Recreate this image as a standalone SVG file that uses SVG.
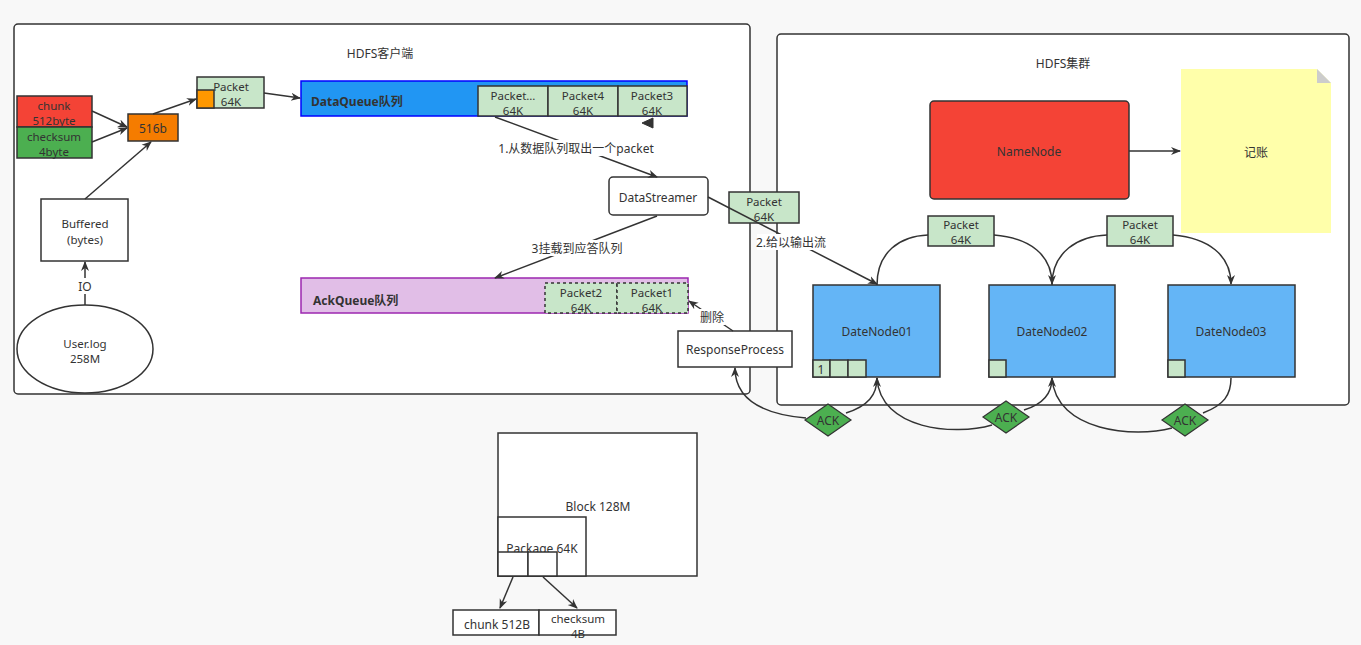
<svg xmlns="http://www.w3.org/2000/svg" width="1361" height="645" viewBox="0 0 1361 645">
<defs>
<style>
text{font-family:"Noto Sans","Noto Sans CJK SC",sans-serif;font-size:12px;fill:#333;text-anchor:middle;dominant-baseline:central}
.t{font-size:11.5px}
.b{font-weight:bold;text-anchor:start}
.box{stroke:#333;stroke-width:1.5}
.pk{fill:#c8e6c9;stroke:#333;stroke-width:1.5}
.dash{fill:#c8e6c9;stroke:#333;stroke-width:1.5;stroke-dasharray:3 3}
.dn{fill:#64b5f6;stroke:#333;stroke-width:1.5}
.ack{fill:#4caf50;stroke:#333;stroke-width:1.2}
.e{fill:none;stroke:#333;stroke-width:1.5}
.lb{fill:#fff}
</style>
<marker id="a" viewBox="0 0 10 10" refX="9" refY="5" markerWidth="10" markerHeight="10" markerUnits="userSpaceOnUse" orient="auto"><path d="M0,1 L10,5 L0,9 L3,5 z" fill="#333"/></marker>
</defs>
<rect width="1361" height="645" fill="#f8f8f8"/>
<g id="client">
<rect x="14" y="24" width="736" height="370" rx="4" fill="#fff" class="box"/>
<text x="380" y="53">HDFS客户端</text>
</g>
<g id="cluster">
<rect x="777" y="34" width="572" height="371" rx="4" fill="#fff" class="box"/>
<text x="1063" y="63">HDFS集群</text>
</g>
<g id="chunk"><rect x="17" y="96" width="75" height="31" fill="#f44336" class="box"/><text class="t" x="54" y="105">chunk</text><text class="t" x="54" y="120">512byte</text></g>
<g id="checksum"><rect x="17" y="127" width="75" height="31" fill="#4caf50" class="box"/><text class="t" x="54" y="136">checksum</text><text class="t" x="54" y="151">4byte</text></g>
<g id="b516"><rect x="128" y="114" width="50" height="27" fill="#f57c00" class="box"/><text x="153" y="128">516b</text></g>
<g id="packet0"><rect x="197" y="77" width="67" height="31" class="pk"/><rect x="197" y="90" width="17" height="18" fill="#ff9800" class="box"/><text class="t" x="231" y="86">Packet</text><text class="t" x="231" y="101">64K</text></g>
<g id="buffered"><rect x="41" y="199" width="87" height="62" fill="#fff" class="box"/><text class="t" x="85" y="223">Buffered</text><text class="t" x="85" y="239">(bytes)</text></g>
<g id="userlog"><ellipse cx="85" cy="349" rx="68" ry="44" fill="#fff" class="box"/><text class="t" x="85" y="343">User.log</text><text class="t" x="85" y="358">258M</text></g>
<g id="dataqueue">
<rect x="301" y="81" width="386" height="35" fill="#2196f3" stroke="#0000ff" stroke-width="1.5"/>
<text x="311" y="101" class="b">DataQueue队列</text>
<rect x="478" y="86" width="70" height="30" class="pk"/><text class="t" x="513" y="95">Packet…</text><text class="t" x="513" y="110">64K</text>
<rect x="548" y="86" width="70" height="30" class="pk"/><text class="t" x="583" y="95">Packet4</text><text class="t" x="583" y="110">64K</text>
<rect x="618" y="86" width="69" height="30" class="pk"/><text class="t" x="652" y="95">Packet3</text><text class="t" x="652" y="110">64K</text>
</g>
<g id="datastreamer"><rect x="609" y="177" width="99" height="38" rx="4" fill="#fff" class="box"/><text x="658" y="197">DataStreamer</text></g>
<g id="ackqueue">
<rect x="301" y="278" width="387" height="35" fill="#e1bee7" stroke="#9c27b0" stroke-width="1.5"/>
<text x="313" y="300" class="b">AckQueue队列</text>
<rect x="545" y="283" width="72" height="30" class="dash"/><text class="t" x="581" y="292">Packet2</text><text class="t" x="581" y="307">64K</text>
<rect x="617" y="283" width="71" height="30" class="dash"/><text class="t" x="652" y="292">Packet1</text><text class="t" x="652" y="307">64K</text>
</g>
<g id="packetOut"><rect x="729" y="192" width="70" height="31" class="pk"/><text class="t" x="764" y="201">Packet</text><text class="t" x="764" y="216">64K</text></g>
<g id="responseprocess"><rect x="678" y="331" width="114" height="36" fill="#fff" class="box"/><text x="735" y="349">ResponseProcess</text></g>
<g id="namenode"><rect x="930" y="101" width="199" height="98" rx="4" fill="#f44336" class="box"/><text x="1029" y="151">NameNode</text></g>
<g id="note"><path d="M1181 69 H1317 L1331 83 V233 H1181 Z" fill="#ffffaa"/><path d="M1317 69 L1331 83 H1317 Z" fill="#cccccc"/><text x="1256" y="152">记账</text></g>
<g id="dn1"><rect x="813" y="285" width="127" height="92" class="dn"/><rect x="813" y="360" width="17" height="17" class="pk"/><rect x="830" y="360" width="18" height="17" class="pk"/><rect x="848" y="360" width="18" height="17" class="pk"/><text x="821" y="369">1</text><text x="877" y="331">DateNode01</text></g>
<g id="dn2"><rect x="989" y="285" width="126" height="92" class="dn"/><rect x="989" y="360" width="17" height="17" class="pk"/><text x="1052" y="331">DateNode02</text></g>
<g id="dn3"><rect x="1168" y="285" width="127" height="92" class="dn"/><rect x="1168" y="360" width="17" height="17" class="pk"/><text x="1231" y="331">DateNode03</text></g>
<g id="pk12"><rect x="928" y="216" width="66" height="30" class="pk"/><text class="t" x="961" y="224">Packet</text><text class="t" x="961" y="239">64K</text></g>
<g id="pk23"><rect x="1107" y="216" width="66" height="30" class="pk"/><text class="t" x="1140" y="224">Packet</text><text class="t" x="1140" y="239">64K</text></g>
<g id="ack1"><path d="M805 420 L828 404 L851 420 L828 436 Z" class="ack"/><text x="828" y="420">ACK</text></g>
<g id="ack2"><path d="M983 417 L1006 401 L1029 417 L1006 433 Z" class="ack"/><text x="1006" y="417">ACK</text></g>
<g id="ack3"><path d="M1162 420 L1185 404 L1208 420 L1185 436 Z" class="ack"/><text x="1185" y="420">ACK</text></g>
<g id="block"><rect x="498" y="433" width="199" height="143" fill="#fff" class="box"/><text x="598" y="506">Block 128M</text></g>
<g id="package"><rect x="498" y="517" width="88" height="59" fill="#fff" class="box"/><text x="542" y="548">Package 64K</text><rect x="498" y="552" width="30" height="24" fill="#fff" class="box"/><rect x="528" y="552" width="29" height="24" fill="#fff" class="box"/></g>
<g id="chunkB"><rect x="453" y="610" width="86" height="25" fill="#fff" class="box"/><text x="497" y="624">chunk 512B</text></g>
<g id="checksumB"><rect x="539" y="610" width="77" height="25" fill="#fff" class="box"/><text class="t" x="578" y="618">checksum</text><text class="t" x="578" y="633">4B</text></g>
<g id="connectors">
<path class="e" marker-end="url(#a)" d="M92 111 L127 127"/>
<path class="e" marker-end="url(#a)" d="M92 142 L127 128"/>
<path class="e" marker-end="url(#a)" d="M85 199 L151 142"/>
<path class="e" marker-end="url(#a)" d="M153 114 L196 99"/>
<path class="e" marker-end="url(#a)" d="M264 93 L300 98"/>
<path d="M642 123 L653 118 L653 128 Z" fill="#333" stroke="#333" stroke-width="1"/>
<path class="e" marker-end="url(#a)" d="M495 117 L657 177"/>
<rect class="lb" x="501" y="140" width="150" height="16"/><text x="576" y="148">1.从数据队列取出一个packet</text>
<path class="e" marker-end="url(#a)" d="M657 216 L495 278"/>
<rect class="lb" x="532" y="240" width="90" height="16"/><text x="577" y="248">3挂载到应答队列</text>
<path class="e" marker-end="url(#a)" d="M708 197 L877 284"/>
<rect class="lb" x="757" y="234" width="68" height="16"/><text x="791" y="242">2.给以输出流</text>
<path class="e" marker-end="url(#a)" d="M733 331 L689 301"/>
<rect class="lb" x="699" y="309" width="26" height="16"/><text x="712" y="317">删除</text>
<path class="e" marker-end="url(#a)" d="M85 305 L85 262"/>
<rect class="lb" x="78" y="278" width="14" height="16"/><text x="85" y="286">IO</text>
<path class="e" marker-end="url(#a)" d="M1129 151 L1180 151"/>
<path class="e" d="M877 285 C877 252 900 236 928 235"/>
<path class="e" marker-end="url(#a)" d="M994 235 C1030 238 1052 255 1052 284"/>
<path class="e" d="M1052 285 C1052 252 1078 236 1107 235"/>
<path class="e" marker-end="url(#a)" d="M1173 235 C1208 238 1231 255 1231 284"/>
<path class="e" marker-end="url(#a)" d="M806 418 C760 414 735 398 735 368"/>
<path class="e" marker-end="url(#a)" d="M846 413 C868 406 877 395 877 378"/>
<path class="e" d="M877 378 C880 430 955 436 992 425"/>
<path class="e" marker-end="url(#a)" d="M1024 410 C1044 404 1052 393 1052 378"/>
<path class="e" d="M1052 378 C1056 432 1135 438 1172 428"/>
<path class="e" d="M1203 413 C1224 405 1231 395 1231 378"/>
<path class="e" marker-end="url(#a)" d="M513 577 L500 608"/>
<path class="e" marker-end="url(#a)" d="M543 577 L577 608"/>
</g>
</svg>
